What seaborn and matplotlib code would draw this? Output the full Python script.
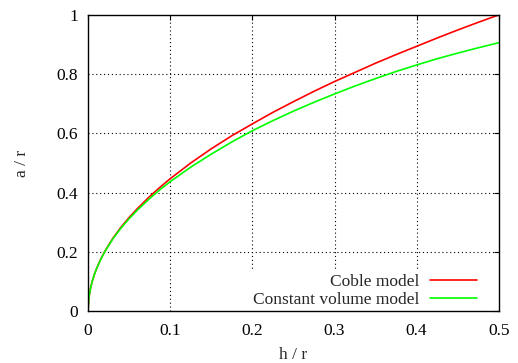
import pandas as pd
import matplotlib
matplotlib.use("Agg")
import matplotlib.pyplot as plt
import seaborn as sns

# values
h_r = [0, 0.001, 0.0025, 0.005, 0.0075, 0.01, 0.015, 0.02, 0.03, 0.04, 0.05,
       0.06, 0.075, 0.0875, 0.1, 0.125, 0.15, 0.175, 0.2, 0.225, 0.25, 0.275,
       0.3, 0.325, 0.35, 0.375, 0.4, 0.425, 0.45, 0.475, 0.5]
coble = [0, 0.045, 0.071, 0.1, 0.122, 0.141, 0.173, 0.2, 0.245, 0.283, 0.316,
         0.346, 0.387, 0.418, 0.447, 0.5, 0.548, 0.592, 0.632, 0.671, 0.707, 0.742,
         0.775, 0.806, 0.837, 0.866, 0.894, 0.922, 0.949, 0.975, 1.0]
const_vol = [0, 0.045, 0.071, 0.1, 0.122, 0.141, 0.172, 0.199, 0.243, 0.280, 0.312,
             0.341, 0.380, 0.410, 0.437, 0.486, 0.530, 0.571, 0.609, 0.643, 0.675, 0.705,
             0.733, 0.760, 0.785, 0.809, 0.831, 0.852, 0.871, 0.889, 0.906]

x_ticks = [0, 0.1, 0.2, 0.3, 0.4, 0.5]
x_labels = ["0", "0.1", "0.2", "0.3", "0.4", "0.5"]
y_ticks = [0, 0.2, 0.4, 0.6, 0.8, 1.0]
y_labels = ["0", "0.2", "0.4", "0.6", "0.8", "1"]

df = pd.DataFrame({
    "h": h_r * 2,
    "a": coble + const_vol,
    "model": ["Coble model"] * len(h_r) + ["Constant volume model"] * len(h_r),
})

sns.set_style("white")
plt.rcParams["font.family"] = ["Liberation Serif", "DejaVu Serif"]
plt.rcParams["font.size"] = 12.5

fig, ax = plt.subplots(figsize=(5.18, 3.63), dpi=100)
fig.subplots_adjust(left=0.170, right=0.963, top=0.959, bottom=0.143)

sns.lineplot(data=df, x="h", y="a", hue="model",
             palette={"Coble model": "#ff0000", "Constant volume model": "#00ff00"},
             linewidth=1.2, ax=ax, zorder=3)

# dotted grid under the legend box, tick marks above it
grid_style = dict(color="black", linestyle=(0, (1, 2.5)), linewidth=0.8, zorder=1)
ax.vlines(x_ticks[1:-1], 0, 1, **grid_style)
ax.hlines(y_ticks[1:-1], 0, 0.5, **grid_style)

ax.set_xlim(0, 0.5)
ax.set_ylim(0, 1)
ax.set_xticks(x_ticks)
ax.set_xticklabels(x_labels)
ax.set_yticks(y_ticks)
ax.set_yticklabels(y_labels)
ax.tick_params(direction="in", length=3.5, width=0.8, top=True, right=True,
               labelsize=12.5, colors="black")
ax.tick_params(axis="x", pad=8.5)
ax.tick_params(axis="y", pad=7)
ax.grid(False)
ax.xaxis.set_zorder(6)
ax.yaxis.set_zorder(6)
for s in ax.spines.values():
    s.set_color("black")
    s.set_linewidth(1.0)
    s.set_zorder(6)

ax.set_xlabel("h / r", fontsize=12.5, labelpad=6)
ax.set_ylabel("a / r", fontsize=12.5, labelpad=19)

leg = ax.legend(loc="lower right", frameon=True, markerfirst=False,
                fontsize=12.5, handlelength=2.7, handletextpad=0.65,
                labelspacing=0.1, borderaxespad=0.0, borderpad=0.2,
                bbox_to_anchor=(0.956, 0.0), fancybox=False)
leg.get_frame().set_edgecolor("none")
leg.get_frame().set_facecolor("white")
leg.get_frame().set_alpha(1)
leg.set_zorder(5)
for t in leg.get_texts():
    t.set_ha("right")

fig.savefig("out.png", dpi=100)
